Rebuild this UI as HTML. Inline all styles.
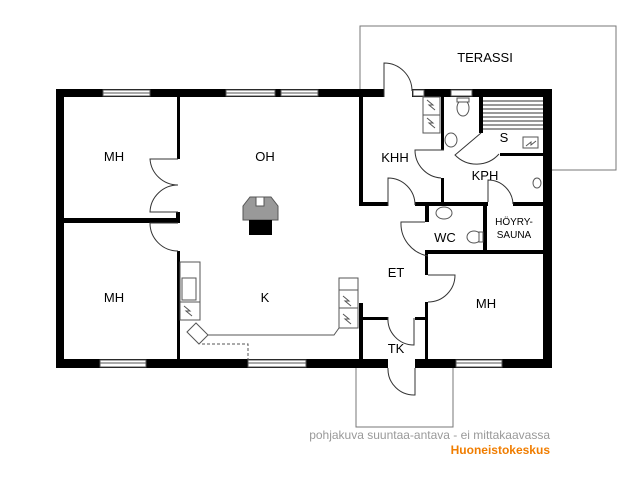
<!DOCTYPE html>
<html><head><meta charset="utf-8"><style>
html,body{margin:0;padding:0;background:#fff;}
svg{display:block;}
text{font-family:"Liberation Sans",sans-serif;font-size:13px;fill:#000;}
</style></head><body>
<svg width="640" height="480" viewBox="0 0 640 480">
<g fill="none" stroke="#777" stroke-width="1">
<polyline points="360,89 360,26 616,26 616,170 552,170"/>
<polyline points="356,368 356,427 453,427 453,368"/>
</g>
<g fill="#000">
<rect x="56" y="89" width="8" height="279"/>
<rect x="543" y="89" width="9" height="279"/>
<rect x="56" y="89" width="328" height="8"/>
<rect x="412" y="89" width="140" height="8"/>
<rect x="56" y="359" width="332" height="9"/>
<rect x="415" y="359" width="137" height="9"/>
<rect x="64" y="218" width="114" height="5"/>
<rect x="177" y="97" width="3" height="62"/>
<rect x="176" y="212" width="4" height="11"/>
<rect x="177" y="251" width="3" height="108"/>
<rect x="359" y="97" width="4" height="108"/>
<rect x="359" y="202" width="29" height="4"/>
<rect x="415" y="202" width="73" height="4"/>
<rect x="513" y="202" width="30" height="4"/>
<rect x="441" y="97" width="3" height="53"/>
<rect x="441" y="178" width="3" height="27"/>
<rect x="479" y="97" width="4" height="36"/>
<rect x="500" y="153" width="43" height="3"/>
<rect x="425" y="206" width="4" height="16"/>
<rect x="483" y="206" width="4" height="46"/>
<rect x="425" y="250" width="118" height="4"/>
<rect x="425" y="254" width="3" height="21"/>
<rect x="425" y="302" width="3" height="57"/>
<rect x="359" y="317" width="29" height="3"/>
<rect x="415" y="317" width="10" height="3"/>
<rect x="359" y="317" width="4" height="42"/>
<rect x="359" y="303" width="4" height="14"/>
</g>
<g fill="#fff" stroke="#555" stroke-width="1">
<rect x="103" y="90" width="47" height="6"/>
<rect x="226" y="90" width="49" height="6"/>
<rect x="281" y="90" width="37" height="6"/>
<rect x="413" y="90" width="11" height="6"/>
<rect x="451" y="90" width="21" height="6"/>
<rect x="100" y="360" width="46" height="7"/>
<rect x="248" y="360" width="58" height="7"/>
<rect x="456" y="360" width="46" height="7"/>
</g>
<g stroke="#555" stroke-width="1">
<line x1="103" y1="93" x2="150" y2="93"/><line x1="226" y1="93" x2="275" y2="93"/>
<line x1="281" y1="93" x2="318" y2="93"/><line x1="100" y1="363" x2="146" y2="363"/>
<line x1="248" y1="363" x2="306" y2="363"/><line x1="456" y1="363" x2="502" y2="363"/>
</g>
<g fill="none" stroke="#333" stroke-width="1">
<path d="M178,159 L150,159 A28,28 0 0 0 178,185"/>
<path d="M178,212 L150,212 A28,28 0 0 1 178,185"/>
<path d="M178,223 L150,223 A28,28 0 0 0 178,251"/>
<path d="M384,97 L384,63 A28,28 0 0 1 412,91"/>
<path d="M388,206 L388,178 A27,27 0 0 1 415,205"/>
<path d="M444,150 L415,150 A28,28 0 0 0 441,178"/>
<path d="M488,202 L488,180 A25,25 0 0 1 513,204"/>
<path d="M481,133 L455,155 A30,30 0 0 0 499,154"/>
<path d="M425,222 L401,222 A33,33 0 0 0 428,256"/>
<path d="M428,275 L455,275 A27,27 0 0 1 428,302"/>
<path d="M388,317 A26,26 0 0 0 414,345 L414,318"/>
<path d="M388,368 A26,26 0 0 0 415,395 L415,368"/>
</g>
<g stroke="#333" stroke-width="1">
<line x1="483" y1="101" x2="543" y2="101"/><line x1="483" y1="105" x2="543" y2="105"/>
<line x1="483" y1="109" x2="543" y2="109"/><line x1="483" y1="113" x2="543" y2="113"/>
<line x1="483" y1="117" x2="543" y2="117"/><line x1="483" y1="121" x2="543" y2="121"/>
<line x1="483" y1="125" x2="543" y2="125"/><line x1="483" y1="129" x2="543" y2="129"/>
</g>
<g fill="#fff" stroke="#555" stroke-width="1">
<rect x="423" y="97" width="17" height="18"/><rect x="423" y="115" width="17" height="18"/>
<rect x="523" y="137" width="15" height="11"/>
<ellipse cx="463" cy="108" rx="6" ry="8"/><rect x="457" y="98" width="12" height="4"/>
<ellipse cx="451" cy="140" rx="6" ry="7"/>
<ellipse cx="444" cy="213" rx="8" ry="6"/>
<ellipse cx="474" cy="237" rx="7" ry="6"/><rect x="479" y="232" width="4" height="10"/>
<rect x="180" y="262" width="20" height="40"/>
<rect x="182" y="278" width="14" height="22"/>
<rect x="180" y="302" width="20" height="18"/>
<rect x="339" y="278" width="19" height="12"/><rect x="339" y="290" width="19" height="18"/><rect x="339" y="308" width="19" height="20"/>
<polygon points="187,332 196,323 208,335 199,344"/>
<ellipse cx="537" cy="183" rx="4" ry="5"/>
</g>
<g fill="none" stroke="#555" stroke-width="1">
<polyline points="208,335 334,335 339,328"/>
<polyline points="202,344 248,344 248,360" stroke-dasharray="3,2"/>
<path d="M427,118 l6,5 l-4,0 l6,5 M427,100 l6,5 l-4,0 l6,5 M526,146 l5,-4 l0,3 l5,-4 M343,296 l6,5 l-4,0 l6,5 M343,314 l6,5 l-4,0 l6,5 M184,306 l6,5 l-4,0 l6,5"/>
</g>
<polygon points="250,197 271,197 278,206 278,220 243,220 243,206" fill="#999" stroke="#555"/>
<rect x="256" y="197" width="8" height="9" fill="#fff" stroke="#555"/>
<rect x="249" y="220" width="23" height="15" fill="#000"/>
<text x="485" y="62" text-anchor="middle">TERASSI</text>
<text x="114" y="161" text-anchor="middle">MH</text>
<text x="265" y="161" text-anchor="middle">OH</text>
<text x="395" y="162" text-anchor="middle">KHH</text>
<text x="504" y="142" text-anchor="middle">S</text>
<text x="485" y="180" text-anchor="middle">KPH</text>
<text x="445" y="242" text-anchor="middle">WC</text>
<text x="514" y="225" text-anchor="middle" style="font-size:10px">HÖYRY-</text>
<text x="514" y="238" text-anchor="middle" style="font-size:10px">SAUNA</text>
<text x="396" y="277" text-anchor="middle">ET</text>
<text x="114" y="302" text-anchor="middle">MH</text>
<text x="265" y="302" text-anchor="middle">K</text>
<text x="486" y="308" text-anchor="middle">MH</text>
<text x="396" y="353" text-anchor="middle">TK</text>
<text x="550" y="439" text-anchor="end" style="font-size:12px;fill:#999">pohjakuva suuntaa-antava - ei mittakaavassa</text>
<text x="550" y="454" text-anchor="end" style="font-size:12px;fill:#f07d00;font-weight:bold">Huoneistokeskus</text>
</svg>
</body></html>
